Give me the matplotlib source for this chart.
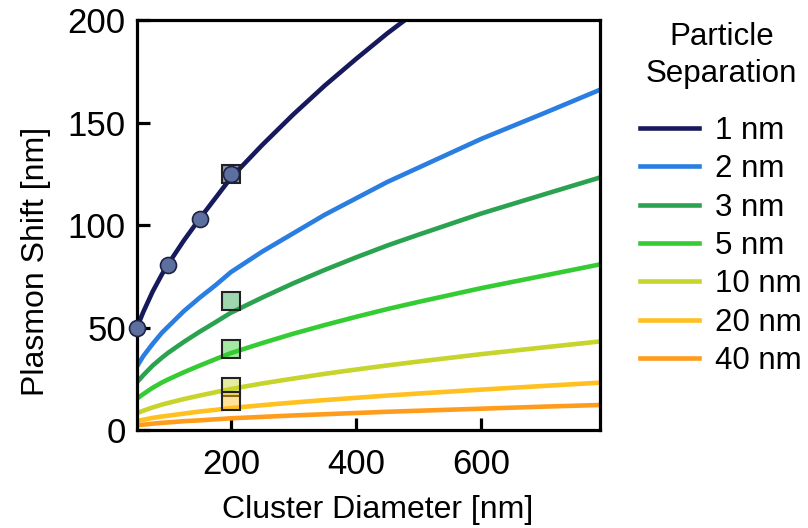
import numpy as np
import matplotlib.pyplot as plt

plt.rcParams['font.family'] = ['Liberation Sans', 'DejaVu Sans']

# --- data (cluster diameter in nm, shift in nm) ---
diameter = [50, 60, 75, 90, 100, 125, 150, 175, 200, 250, 300, 350, 400, 450, 500, 600, 700, 790]

separations = ['1 nm', '2 nm', '3 nm', '5 nm', '10 nm', '20 nm', '40 nm']
shift_1nm = [50, 57.5, 67.5, 76, 81, 92.5, 103, 113, 123, 139, 154, 168, 181, 193.5, 205, 227, 247, 265]
shift_2nm = [31, 36, 42, 47.5, 50.5, 58, 64.5, 70.5, 77, 87, 96, 105, 113, 121, 128, 142, 154.5, 166]
shift_3nm = [23.3, 26.7, 31.4, 35.3, 37.7, 43, 47.9, 52.5, 57.2, 64.6, 71.6, 78.1, 84.2, 90, 95.3, 105.6, 114.9, 123.2]
shift_5nm = [15.3, 17.5, 20.6, 23.2, 24.7, 28.2, 31.4, 34.5, 37.5, 42.4, 47, 51.2, 55.2, 59, 62.5, 69.2, 75.3, 80.8]
shift_10nm = [8.2, 9.4, 11, 12.4, 13.2, 15.1, 16.8, 18.4, 20, 22.7, 25.1, 27.4, 29.5, 31.5, 33.4, 37, 40.3, 43.2]
shift_20nm = [4.4, 5, 5.9, 6.6, 7, 8, 9, 9.8, 10.7, 12.1, 13.4, 14.6, 15.7, 16.8, 17.8, 19.7, 21.5, 23.1]
shift_40nm = [2.3, 2.6, 3.1, 3.5, 3.7, 4.3, 4.7, 5.2, 5.7, 6.4, 7.1, 7.7, 8.3, 8.9, 9.4, 10.4, 11.4, 12.2]
curves = [shift_1nm, shift_2nm, shift_3nm, shift_5nm, shift_10nm, shift_20nm, shift_40nm]

colors = ['#161a5c', '#2a7de1', '#2ba24f', '#35cc33', '#c6d42c', '#ffc020', '#ff9c1c']

# measured points (circles) for 1 nm
circle_x = [50, 100, 150, 200]
circle_y = [50, 80.5, 103, 124.7]

# squares at 200 nm: value and which separation they belong to
square_x = [200, 200, 200, 200, 200]
square_y = [124.7, 63, 39.4, 21, 14]
square_sep = [0, 2, 3, 4, 5]

fig = plt.figure(figsize=(8.08, 5.28), dpi=100)
ax = fig.add_axes([0.1695, 0.1856, 0.5731, 0.7764])

for label, y, c in zip(separations, curves, colors):
    ax.plot(diameter, y, color=c, lw=3.3, label=label, zorder=2)

for x, y, s in zip(square_x, square_y, square_sep):
    ax.plot(x, y, 's', ms=12.5, mfc=colors[s], alpha=0.45, mec='none', zorder=3)
    ax.plot(x, y, 's', ms=12.5, mfc='none', mec='#222222', mew=1.5, zorder=3)

ax.plot(circle_x, circle_y, 'o', ms=11.5, mfc='#5d6f9e', mec='#1c2244', mew=1.2,
        zorder=4, clip_on=False)

ax.set_xlim(50, 790)
ax.set_ylim(0, 200)
ax.set_xticks([200, 400, 600])
ax.set_yticks([0, 50, 100, 150, 200])

for sp in ax.spines.values():
    sp.set_linewidth(2.3)
ax.tick_params(direction='in', length=9, width=2.3, labelsize=25)
ax.tick_params(axis='x', pad=13)
ax.tick_params(axis='y', pad=8)

ax.set_xlabel('Cluster Diameter [nm]', fontsize=23, labelpad=10)
ax.set_ylabel('Plasmon Shift [nm]', fontsize=23, labelpad=12)
ax.xaxis.label.set_x(0.52)
ax.yaxis.label.set_y(0.41)

# legend title drawn separately so it can sit higher than the entries
fig.text(0.893, 0.930, 'Particle', fontsize=22.5, ha='center', va='center')
fig.text(0.893, 0.860, 'Separation', fontsize=22.5, ha='center', va='center')

leg = fig.legend(loc='upper left', bbox_to_anchor=(0.792, 0.781), frameon=False,
                 fontsize=22.5, handlelength=1.9, handletextpad=0.5,
                 labelspacing=0.27, borderpad=0, borderaxespad=0)
for h in leg.get_lines():
    h.set_linewidth(3.3)

fig.savefig('out.png', dpi=100)
